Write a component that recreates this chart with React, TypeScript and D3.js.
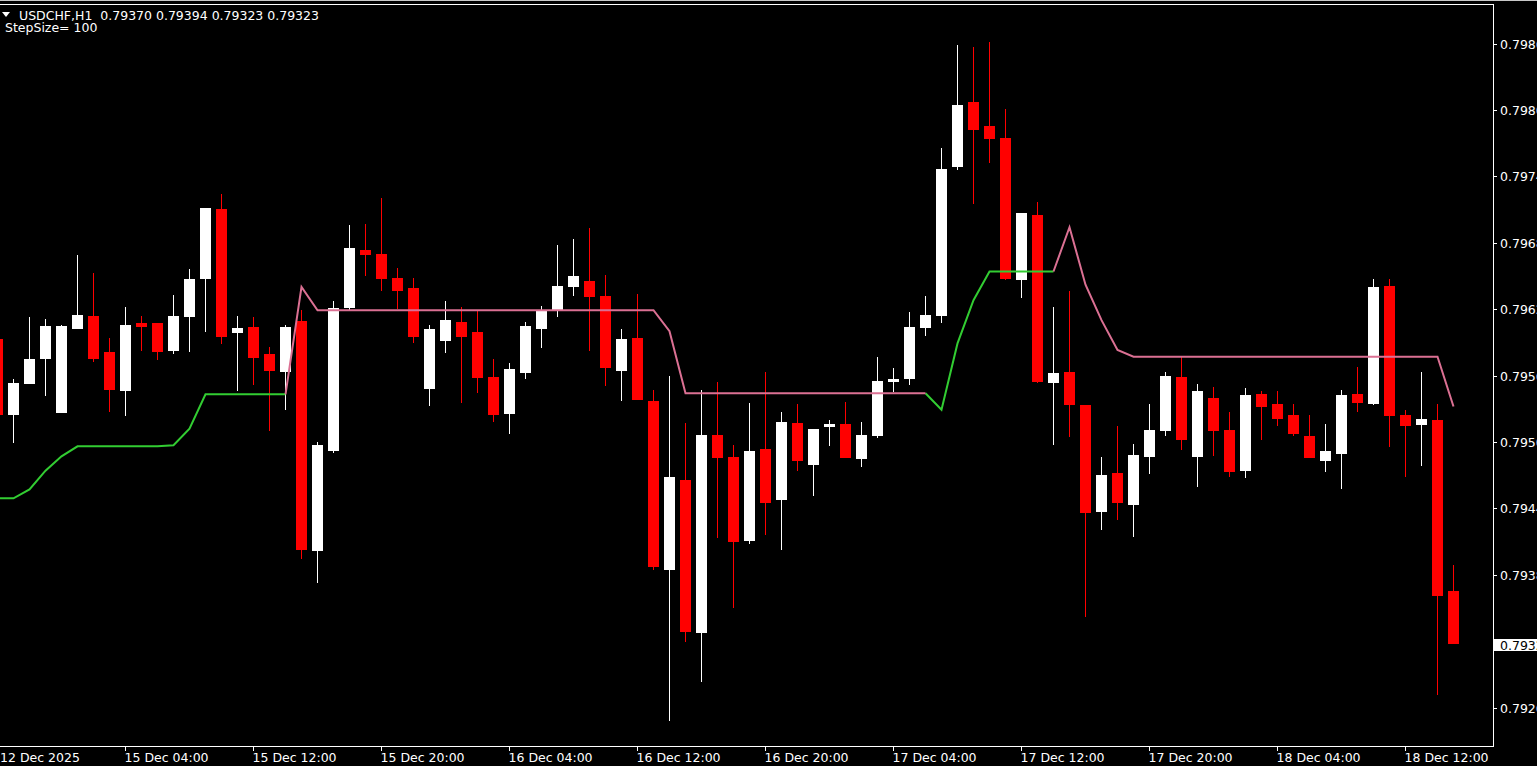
import React from "react";
import * as d3 from "d3";

// ---------- DATA (USDCHF, H1) ----------
const opens = [
  0.79598, 0.79530, 0.79558, 0.79581, 0.79532, 0.79608, 0.79619, 0.79586, 0.79552, 0.79612,
  0.79612, 0.79588, 0.79619, 0.79653, 0.79715, 0.79604, 0.79609, 0.79584, 0.79569, 0.79614,
  0.79407, 0.79498, 0.79627, 0.79678, 0.79675, 0.79653, 0.79644, 0.79554, 0.79597, 0.79613,
  0.79604, 0.79564, 0.79531, 0.79568, 0.79608, 0.79624, 0.79646, 0.79650, 0.79637, 0.79570,
  0.79599, 0.79542, 0.79390, 0.79471, 0.79333, 0.79511, 0.79491, 0.79416, 0.79499, 0.79453,
  0.79522, 0.79485, 0.79519, 0.79521, 0.79490, 0.79511, 0.79560, 0.79563, 0.79609, 0.79620,
  0.79754, 0.79812, 0.79790, 0.79780, 0.79652, 0.79710, 0.79559, 0.79568, 0.79538, 0.79443,
  0.79477, 0.79449, 0.79492, 0.79516, 0.79564, 0.79492, 0.79545, 0.79516, 0.79480, 0.79548,
  0.79539, 0.79529, 0.79510, 0.79489, 0.79495, 0.79548, 0.79540, 0.79646, 0.79529, 0.79521,
  0.79525, 0.79370,
];
const highs = [
  0.79601, 0.79562, 0.79618, 0.79616, 0.79611, 0.79674, 0.79658, 0.79599, 0.79627, 0.79619,
  0.79612, 0.79638, 0.79661, 0.79716, 0.79729, 0.79619, 0.79618, 0.79591, 0.79611, 0.79624,
  0.79505, 0.79632, 0.79701, 0.79702, 0.79725, 0.79662, 0.79653, 0.79611, 0.79632, 0.79627,
  0.79623, 0.79580, 0.79576, 0.79613, 0.79628, 0.79683, 0.79688, 0.79698, 0.79656, 0.79607,
  0.79639, 0.79552, 0.79565, 0.79522, 0.79552, 0.79559, 0.79502, 0.79540, 0.79568, 0.79532,
  0.79539, 0.79517, 0.79525, 0.79541, 0.79523, 0.79582, 0.79572, 0.79622, 0.79637, 0.79771,
  0.79864, 0.79862, 0.79866, 0.79806, 0.79712, 0.79722, 0.79627, 0.79641, 0.79538, 0.79491,
  0.79519, 0.79503, 0.79539, 0.79568, 0.79582, 0.79557, 0.79555, 0.79532, 0.79554, 0.79551,
  0.79551, 0.79539, 0.79529, 0.79521, 0.79552, 0.79573, 0.79652, 0.79652, 0.79534, 0.79568,
  0.79539, 0.79394,
];
const lows = [
  0.79528, 0.79505, 0.79558, 0.79547, 0.79532, 0.79608, 0.79578, 0.79533, 0.79529, 0.79588,
  0.79580, 0.79585, 0.79587, 0.79605, 0.79594, 0.79552, 0.79557, 0.79516, 0.79535, 0.79400,
  0.79378, 0.79496, 0.79624, 0.79656, 0.79642, 0.79626, 0.79595, 0.79538, 0.79586, 0.79541,
  0.79550, 0.79524, 0.79513, 0.79563, 0.79591, 0.79619, 0.79638, 0.79588, 0.79556, 0.79543,
  0.79544, 0.79390, 0.79254, 0.79325, 0.79289, 0.79419, 0.79356, 0.79414, 0.79422, 0.79408,
  0.79480, 0.79457, 0.79502, 0.79491, 0.79483, 0.79509, 0.79551, 0.79557, 0.79602, 0.79613,
  0.79752, 0.79721, 0.79758, 0.79652, 0.79636, 0.79559, 0.79503, 0.79510, 0.79348, 0.79426,
  0.79435, 0.79420, 0.79477, 0.79511, 0.79499, 0.79465, 0.79493, 0.79474, 0.79473, 0.79508,
  0.79520, 0.79511, 0.79491, 0.79479, 0.79463, 0.79533, 0.79539, 0.79501, 0.79474, 0.79484,
  0.79277, 0.79323,
];
const closes = [
  0.79530, 0.79558, 0.79580, 0.79610, 0.79610, 0.79620, 0.79581, 0.79553, 0.79611, 0.79610,
  0.79587, 0.79619, 0.79652, 0.79716, 0.79601, 0.79608, 0.79582, 0.79570, 0.79609, 0.79408,
  0.79502, 0.79626, 0.79680, 0.79675, 0.79653, 0.79642, 0.79601, 0.79607, 0.79615, 0.79601,
  0.79564, 0.79530, 0.79571, 0.79610, 0.79623, 0.79646, 0.79655, 0.79637, 0.79573, 0.79598,
  0.79544, 0.79393, 0.79473, 0.79334, 0.79511, 0.79491, 0.79415, 0.79497, 0.79451, 0.79523,
  0.79489, 0.79517, 0.79521, 0.79491, 0.79511, 0.79560, 0.79562, 0.79609, 0.79620, 0.79752,
  0.79809, 0.79788, 0.79780, 0.79653, 0.79712, 0.79560, 0.79567, 0.79539, 0.79442, 0.79475,
  0.79451, 0.79493, 0.79516, 0.79565, 0.79508, 0.79551, 0.79516, 0.79479, 0.79547, 0.79537,
  0.79527, 0.79513, 0.79491, 0.79497, 0.79547, 0.79541, 0.79645, 0.79529, 0.79520, 0.79526,
  0.79367, 0.79323,
];
// StepSize trailing line: up (green) and down (pink) buffers
const upLine: (number | null)[] = [
  0.79454, 0.79454, 0.79462, 0.79479, 0.79492, 0.79501, 0.79501, 0.79501, 0.79501, 0.79501,
  0.79501, 0.79502, 0.79517, 0.79548, 0.79548, 0.79548, 0.79548, 0.79548, 0.79548, null,
  null, null, null, null, null, null, null, null, null, null,
  null, null, null, null, null, null, null, null, null, null,
  null, null, null, null, null, null, null, null, null, null,
  null, null, null, null, null, null, null, null, 0.79549, 0.79534,
  0.79594, 0.79633, 0.79659, 0.79659, 0.79659, 0.79659, 0.79659, null, null, null,
  null, null, null, null, null, null, null, null, null, null,
  null, null, null, null, null, null, null, null, null, null,
  null, null,
];
const downLine: (number | null)[] = [
  null, null, null, null, null, null, null, null, null, null,
  null, null, null, null, null, null, null, null, 0.79548, 0.79645,
  0.79624, 0.79624, 0.79624, 0.79624, 0.79624, 0.79624, 0.79624, 0.79624, 0.79624, 0.79624,
  0.79624, 0.79624, 0.79624, 0.79624, 0.79624, 0.79624, 0.79624, 0.79624, 0.79624, 0.79624,
  0.79624, 0.79624, 0.79605, 0.79549, 0.79549, 0.79549, 0.79549, 0.79549, 0.79549, 0.79549,
  0.79549, 0.79549, 0.79549, 0.79549, 0.79549, 0.79549, 0.79549, 0.79549, 0.79549, null,
  null, null, null, null, null, null, 0.79659, 0.79699, 0.79647, 0.79615,
  0.79588, 0.79582, 0.79582, 0.79582, 0.79582, 0.79582, 0.79582, 0.79582, 0.79582, 0.79582,
  0.79582, 0.79582, 0.79582, 0.79582, 0.79582, 0.79582, 0.79582, 0.79582, 0.79582, 0.79582,
  0.79582, 0.79537,
];
const timeTickIndex = [0, 8, 16, 24, 32, 40, 48, 56, 64, 72, 80, 88];
const timeTickLabels = [
  "12 Dec 2025", "15 Dec 04:00", "15 Dec 12:00", "15 Dec 20:00", "16 Dec 04:00", "16 Dec 12:00",
  "16 Dec 20:00", "17 Dec 04:00", "17 Dec 12:00", "17 Dec 20:00", "18 Dec 04:00", "18 Dec 12:00",
];
const priceTicks = [0.79865, 0.79805, 0.79745, 0.79685, 0.79625, 0.79565, 0.79505, 0.79445, 0.79385, 0.79265];
const headerText = "USDCHF,H1  0.79370 0.79394 0.79323 0.79323";
const indicatorText = "StepSize= 100";

// ---------- LAYOUT ----------
const W = 1537;
const H = 766;
const PLOT_RIGHT = 1493;
const PLOT_TOP = 4.5;
const PLOT_BOTTOM = 746.5;
const FONT = "'DejaVu Sans', Verdana, sans-serif";
const FS = 12.5;
const BULL = "#ffffff";
const BEAR = "#ff0000";
const UP_COLOR = "#32cd32";
const DOWN_COLOR = "#db7093";

export default function App() {
  const n = closes.length;
  const x = d3.scaleLinear().domain([0, n - 1]).range([-2.5, 1453.5]);
  const y = d3.scaleLinear().domain([0.79865, 0.79265]).range([43.5, 707.5]);
  const bodyW = 11;

  const lineGen = d3
    .line<number | null>()
    .defined((d) => d != null)
    .x((_, i) => x(i))
    .y((d) => y(d as number));

  const lastClose = closes[n - 1];
  const yLast = y(lastClose);

  return (
    <svg
      width={W}
      height={H}
      style={{ position: "absolute", left: 0, top: 0, display: "block", background: "#000" }}
      fontFamily={FONT}
    >
      <rect x={0} y={0} width={W} height={H} fill="#000" />
      <rect x={0} y={0} width={W} height={1} fill="#c8c8c8" />
      <defs>
        <clipPath id="plotClip">
          <rect x={0} y={PLOT_TOP} width={PLOT_RIGHT} height={PLOT_BOTTOM - PLOT_TOP} />
        </clipPath>
      </defs>

      <g clipPath="url(#plotClip)">
        {/* candles */}
        {closes.map((c, i) => {
          const o = opens[i];
          const cx = Math.round(x(i) - 0.5) + 0.5;
          const col = c >= o ? BULL : BEAR;
          const yTop = Math.round(y(Math.max(o, c)));
          const yBot = Math.round(y(Math.min(o, c)));
          const yH = Math.round(y(highs[i]));
          const yL = Math.round(y(lows[i]));
          return (
            <g key={i} shapeRendering="crispEdges">
              <line x1={cx} x2={cx} y1={yH} y2={yL + 1} stroke={col} strokeWidth={1} />
              <rect x={cx - bodyW / 2} y={yTop} width={bodyW} height={Math.max(1, yBot - yTop + 1)} fill={col} />
            </g>
          );
        })}
        {/* StepSize indicator */}
        <path d={lineGen(upLine) || ""} fill="none" stroke={UP_COLOR} strokeWidth={2} />
        <path d={lineGen(downLine) || ""} fill="none" stroke={DOWN_COLOR} strokeWidth={2} />
      </g>

      {/* frame */}
      <g shapeRendering="crispEdges" stroke="#ffffff" strokeWidth={1} fill="none">
        <line x1={0} x2={PLOT_RIGHT + 0.5} y1={PLOT_TOP} y2={PLOT_TOP} />
        <line x1={PLOT_RIGHT + 0.5} x2={PLOT_RIGHT + 0.5} y1={PLOT_TOP} y2={PLOT_BOTTOM} />
        <line x1={0} x2={PLOT_RIGHT + 0.5} y1={PLOT_BOTTOM} y2={PLOT_BOTTOM} />
      </g>

      {/* price axis (labels run past the window edge, as in the terminal) */}
      <g fontSize={FS} fill="#ffffff">
        {priceTicks.map((p) => {
          const py = Math.round(y(p)) + 0.5;
          return (
            <g key={p}>
              <line x1={PLOT_RIGHT + 0.5} x2={PLOT_RIGHT + 4} y1={py} y2={py} stroke="#fff" shapeRendering="crispEdges" />
              <text x={1500} y={py} dy="0.36em">
                {p.toFixed(5)}
              </text>
            </g>
          );
        })}
        <rect x={1494} y={Math.round(yLast) - 4} width={W - 1494} height={12} fill="#ffffff" />
        <text x={1500} y={Math.round(yLast) + 2} dy="0.36em" fill="#000">
          {lastClose.toFixed(5)}
        </text>
      </g>

      {/* time axis */}
      <g fontSize={FS} fill="#ffffff">
        {timeTickIndex.map((ti, k) => {
          const tx = Math.round(x(ti) - 0.5) + 0.5;
          return (
            <g key={ti}>
              <line x1={tx} x2={tx} y1={PLOT_BOTTOM} y2={PLOT_BOTTOM + 4} stroke="#fff" shapeRendering="crispEdges" />
              <text x={Math.max(0, tx - 1)} y={762}>
                {timeTickLabels[k]}
              </text>
            </g>
          );
        })}
      </g>

      {/* header */}
      <polygon points="2,12 10,12 6,17" fill="#ffffff" />
      <text x={19} y={20} fontSize={FS} fill="#ffffff" style={{ whiteSpace: "pre" }}>
        {headerText}
      </text>
      <text x={5} y={32} fontSize={FS} fill="#ffffff" style={{ whiteSpace: "pre" }}>
        {indicatorText}
      </text>
    </svg>
  );
}
